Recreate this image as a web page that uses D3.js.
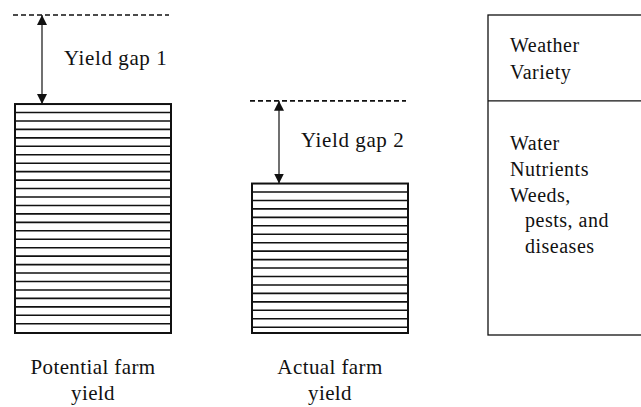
<!DOCTYPE html>
<html>
<head>
<meta charset="utf-8">
<script src="https://cdn.jsdelivr.net/npm/d3@7"></script>
<style>
  body { margin: 0; background: #fff; }
  text { font-family: "Liberation Serif", "DejaVu Serif", serif; fill: #111; }
</style>
</head>
<body>
<svg></svg>
<script>
var width = 641,
    height = 407;

// yields, relative units (top dashed line = 100)
var categories = ["Potential farm yield", "Actual farm yield"];
var labelLines = [["Potential farm", "yield"], ["Actual farm", "yield"]];
var barValues = [72, 47];
var ceilingValues = [100, 73];
var gapLabels = ["Yield gap 1", "Yield gap 2"];
var upperFactors = ["Weather", "Variety"];
var lowerFactors = ["Water", "Nutrients", "Weeds,", "pests, and", "diseases"];
var lowerIndent = [0, 0, 0, 1, 1];

var svg = d3.select("svg")
    .attr("width", width)
    .attr("height", height);

var x = d3.scalePoint()
    .domain(categories)
    .range([93, 330]);

var y = d3.scaleLinear()
    .domain([0, 100])
    .range([333, 15]);

var barW = 156;
var stripeGap = 8.45;

svg.append("defs").append("marker")
    .attr("id", "head")
    .attr("viewBox", "0 0 10 10")
    .attr("refX", 10)
    .attr("refY", 5)
    .attr("markerWidth", 10)
    .attr("markerHeight", 10)
    .attr("markerUnits", "userSpaceOnUse")
    .attr("orient", "auto-start-reverse")
    .append("path")
    .attr("d", "M0,0L10,5L0,10Z")
    .attr("fill", "#111");

var bars = svg.selectAll(".bar")
    .data(categories)
    .enter()
    .append("g")
    .attr("class", "bar");

// stripes
bars.each(function(d, i) {
    var g = d3.select(this),
        x0 = x(d) - barW / 2,
        top = y(barValues[i]),
        bottom = y(0);
    g.selectAll("line.stripe")
        .data(d3.range(top + stripeGap, bottom - 2, stripeGap))
        .enter()
        .append("line")
        .attr("class", "stripe")
        .attr("x1", x0)
        .attr("x2", x0 + barW)
        .attr("y1", function(s) { return s; })
        .attr("y2", function(s) { return s; })
        .attr("stroke", "#111")
        .attr("stroke-width", 1.6);
});

bars.append("rect")
    .attr("x", function(d) { return x(d) - barW / 2; })
    .attr("y", function(d, i) { return y(barValues[i]); })
    .attr("width", barW)
    .attr("height", function(d, i) { return y(0) - y(barValues[i]); })
    .attr("fill", "none")
    .attr("stroke", "#111")
    .attr("stroke-width", 2);

// dashed ceiling lines
bars.append("line")
    .attr("x1", function(d) { return x(d) - barW / 2 - 2; })
    .attr("x2", function(d) { return x(d) + barW / 2 - 2; })
    .attr("y1", function(d, i) { return y(ceilingValues[i]); })
    .attr("y2", function(d, i) { return y(ceilingValues[i]); })
    .attr("stroke", "#111")
    .attr("stroke-width", 1.6)
    .attr("stroke-dasharray", "5,3");

// gap arrows
bars.append("line")
    .attr("x1", function(d) { return x(d) - barW / 2 + 27; })
    .attr("x2", function(d) { return x(d) - barW / 2 + 27; })
    .attr("y1", function(d, i) { return y(ceilingValues[i]); })
    .attr("y2", function(d, i) { return y(barValues[i]); })
    .attr("stroke", "#111")
    .attr("stroke-width", 1.2)
    .attr("marker-start", "url(#head)")
    .attr("marker-end", "url(#head)");

bars.append("text")
    .attr("x", function(d) { return x(d) - barW / 2 + 49; })
    .attr("y", function(d, i) { return (y(ceilingValues[i]) + y(barValues[i])) / 2 + 5; })
    .attr("font-size", 21)
    .attr("letter-spacing", 0.6)
    .text(function(d, i) { return gapLabels[i]; });

// category labels
bars.each(function(d, i) {
    d3.select(this).selectAll("text.cat")
        .data(labelLines[i])
        .enter()
        .append("text")
        .attr("class", "cat")
        .attr("x", x(d))
        .attr("y", function(t, j) { return 374 + j * 26; })
        .attr("text-anchor", "middle")
        .attr("font-size", 21)
        .attr("letter-spacing", 0.4)
        .text(function(t) { return t; });
});

// constraints box
var box = svg.append("g").attr("transform", "translate(488,0)");

box.append("rect")
    .attr("x", 0)
    .attr("y", y(100))
    .attr("width", 200)
    .attr("height", 335 - y(100))
    .attr("fill", "none")
    .attr("stroke", "#111")
    .attr("stroke-width", 1.3);

box.append("line")
    .attr("x1", 0)
    .attr("x2", 200)
    .attr("y1", y(ceilingValues[1]))
    .attr("y2", y(ceilingValues[1]))
    .attr("stroke", "#111")
    .attr("stroke-width", 1.3);

box.selectAll("text.up")
    .data(upperFactors)
    .enter()
    .append("text")
    .attr("class", "up")
    .attr("x", 22)
    .attr("y", function(d, i) { return 52 + i * 27; })
    .attr("font-size", 20)
    .attr("letter-spacing", 0.5)
    .text(function(d) { return d; });

box.selectAll("text.low")
    .data(lowerFactors)
    .enter()
    .append("text")
    .attr("class", "low")
    .attr("x", function(d, i) { return 22 + lowerIndent[i] * 15; })
    .attr("y", function(d, i) { return 150 + i * 25.8; })
    .attr("font-size", 20)
    .attr("letter-spacing", 0.5)
    .text(function(d) { return d; });
</script>
</body>
</html>
